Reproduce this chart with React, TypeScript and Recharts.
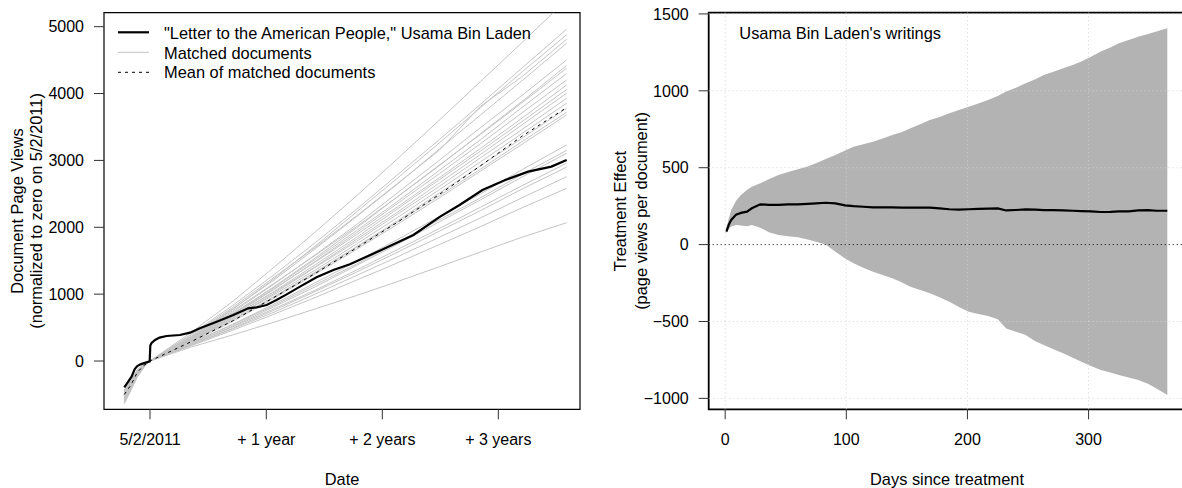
import React from "react";
import {
  LineChart,
  ComposedChart,
  Line,
  Area,
  XAxis,
  YAxis,
  ReferenceArea,
  ReferenceLine,
} from "recharts";

const FONT = '"Liberation Sans", Arial, Helvetica, sans-serif';

// ---- left panel: cumulative page views, days counted from 5/2/2011 ----
const DATE_TICKS = [0, 366, 731, 1096];
const DATE_TICK_LABELS = ["5/2/2011", "+ 1 year", "+ 2 years", "+ 3 years"];
const VIEW_TICKS = [0, 1000, 2000, 3000, 4000, 5000];

const LETTER_DAYS = [
  -81, -70, -58, -48, -40, -30, -21, -1, 1, 5, 16, 30, 52, 94, 126, 157, 210,
  262, 309, 336, 367, 398, 430, 472, 524, 577, 629, 733, 829, 913, 974, 1046,
  1118, 1190, 1263, 1311,
];
const LETTER_VIEWS = [
  -394, -320, -235, -120, -75, -50, -35, -5, 230, 270, 314, 350, 374, 389, 424,
  489, 588, 688, 788, 803, 838, 912, 997, 1112, 1252, 1361, 1447, 1671, 1885,
  2159, 2334, 2558, 2708, 2832, 2907, 3007,
];

const MEAN_DAYS = [-81, -60, -40, -20, 0, 130, 260, 390, 520, 650, 780, 910, 1040, 1170, 1311];
const MEAN_VIEWS = [-500, -360, -170, -70, 0, 290, 600, 950, 1310, 1690, 2080, 2490, 2920, 3360, 3790];

const MATCHED_DAYS = [-81, -60, -40, -20, 0, 130, 260, 390, 520, 650, 780, 910, 1040, 1170, 1311];
const MATCHED_VIEWS = [
  [-520, -360, -170, -70, 0, 430, 890, 1400, 1930, 2470, 3030, 3600, 4180, 4760, 5400],
  [-600, -410, -210, -85, 0, 400, 830, 1290, 1770, 2270, 2790, 3310, 3840, 4380, 4962],
  [-480, -330, -150, -60, 0, 360, 770, 1230, 1720, 2230, 2740, 3260, 3790, 4320, 4880],
  [-550, -380, -190, -75, 0, 390, 800, 1250, 1700, 2170, 2660, 3150, 3810, 4250, 4812],
  [-640, -440, -240, -100, 0, 370, 780, 1210, 1680, 2160, 2650, 3170, 3680, 4190, 4753],
  [-450, -310, -140, -55, 0, 350, 730, 1150, 1590, 2040, 2520, 3000, 3490, 3970, 4503],
  [-580, -400, -200, -80, 0, 360, 750, 1160, 1580, 2010, 2460, 2920, 3400, 3880, 4420],
  [-500, -350, -170, -65, 0, 330, 700, 1110, 1540, 1990, 2460, 2930, 3390, 3860, 4379],
  [-620, -430, -230, -95, 0, 340, 710, 1100, 1520, 1950, 2390, 2850, 3310, 3790, 4300],
  [-470, -320, -150, -60, 0, 320, 680, 1070, 1490, 1920, 2360, 2800, 3250, 3710, 4204],
  [-560, -390, -190, -75, 0, 340, 700, 1080, 1480, 1890, 2310, 2740, 3180, 3630, 4129],
  [-430, -290, -130, -50, 0, 310, 660, 1040, 1440, 1850, 2280, 2710, 3140, 3580, 4060],
  [-590, -410, -210, -85, 0, 320, 670, 1030, 1410, 1820, 2230, 2660, 3090, 3530, 4005],
  [-510, -350, -170, -65, 0, 300, 640, 1010, 1400, 1790, 2200, 2610, 3040, 3460, 3930],
  [-540, -370, -180, -70, 0, 310, 640, 990, 1360, 1750, 2150, 2560, 2980, 3400, 3855],
  [-460, -320, -150, -60, 0, 290, 610, 960, 1330, 1710, 2100, 2510, 2920, 3330, 3780],
  [-610, -420, -220, -90, 0, 300, 620, 960, 1320, 1700, 2080, 2470, 2870, 3280, 3720],
  [-490, -340, -160, -65, 0, 280, 590, 940, 1300, 1670, 2050, 2440, 2840, 3240, 3680],
  [-570, -390, -200, -80, 0, 270, 550, 850, 1170, 1490, 1820, 2160, 2500, 2860, 3231],
  [-440, -300, -140, -55, 0, 270, 540, 830, 1140, 1450, 1780, 2110, 2440, 2790, 3150],
  [-530, -360, -180, -70, 0, 250, 520, 810, 1110, 1430, 1750, 2080, 2410, 2750, 3107],
  [-600, -420, -210, -85, 0, 260, 510, 780, 1060, 1360, 1670, 1980, 2300, 2620, 2958],
  [-480, -330, -155, -60, 0, 240, 490, 760, 1040, 1330, 1630, 1940, 2250, 2570, 2900],
  [-520, -360, -170, -70, 0, 240, 480, 730, 1000, 1280, 1560, 1850, 2140, 2440, 2757],
  [-560, -380, -190, -75, 0, 230, 460, 700, 950, 1210, 1470, 1740, 2010, 2290, 2583],
  [-450, -310, -140, -55, 0, 210, 390, 580, 780, 980, 1190, 1410, 1630, 1850, 2069],
];

// ---- right panel: treatment effect with its interval ----
const EFFECT_X_TICKS = [0, 100, 200, 300];
const EFFECT_Y_TICKS = [-1000, -500, 0, 500, 1000, 1500];

const EFFECT_DAYS = [
  1, 3, 5, 9, 13, 18, 22, 29, 36, 44, 52, 60, 68, 75, 83, 91, 99, 106, 114, 122,
  130, 138, 146, 153, 161, 169, 177, 185, 193, 201, 209, 217, 225, 232, 240,
  248, 256, 263, 271, 279, 287, 294, 302, 310, 318, 325, 333, 341, 349, 356, 365,
];
const EFFECT_VALUES = [
  84, 130, 160, 195, 206, 214, 236, 262, 258, 258, 262, 262, 265, 268, 272,
  268, 255, 250, 246, 242, 243, 242, 240, 241, 240, 240, 236, 230, 228, 230,
  232, 234, 236, 222, 225, 229, 228, 224, 224, 222, 220, 218, 216, 212, 213,
  216, 216, 222, 224, 220, 220,
];
const BAND_LOWER = [
  75, 100, 118, 128, 125, 120, 128, 110, 80, 62, 55, 47, 33, 19, 0, -46, -90,
  -122, -150, -176, -198, -219, -246, -274, -295, -317, -343, -371, -405, -436,
  -452, -464, -486, -545, -566, -588, -628, -653, -680, -707, -735, -762, -790,
  -816, -832, -848, -864, -881, -905, -935, -978,
];
const BAND_UPPER = [
  110, 170, 225, 285, 323, 355, 377, 399, 425, 453, 472, 490, 508, 529, 556,
  583, 612, 637, 652, 669, 690, 713, 733, 756, 782, 810, 830, 854, 876, 897,
  918, 940, 966, 995, 1020, 1049, 1076, 1103, 1124, 1147, 1168, 1190, 1222,
  1255, 1282, 1309, 1330, 1352, 1370, 1385, 1407,
];

const DAY_DOMAIN: [number, number] = [-144.7, 1353];
const VIEW_DOMAIN: [number, number] = [-722, 5209];
const EFFECT_DAY_DOMAIN: [number, number] = [-13.6, 379.6];
const EFFECT_DOMAIN: [number, number] = [-1071, 1508];

const toRows = (days: number[], values: number[]) =>
  days.map((day, i) => ({ day, value: values[i] }));

const effectRows = EFFECT_DAYS.map((day, i) => ({
  day,
  effect: EFFECT_VALUES[i],
  band: [BAND_LOWER[i], BAND_UPPER[i]],
}));

const minus = (v: number) => (v < 0 ? `\u2212${Math.abs(v)}` : String(v));

const tickStyle = { fontSize: 16, fill: "#000", fontFamily: FONT };
const tickLine = { stroke: "#333", strokeWidth: 1 };

function ViewsPanel() {
  return (
    <LineChart
      width={600}
      height={488}
      margin={{ top: 12.7, right: 20, bottom: 38.7, left: 44 }}
    >
      <XAxis
        type="number"
        dataKey="day"
        domain={DAY_DOMAIN}
        ticks={DATE_TICKS}
        tickFormatter={(v: number) => DATE_TICK_LABELS[DATE_TICKS.indexOf(v)] ?? ""}
        allowDataOverflow
        interval={0}
        axisLine={false}
        tickLine={tickLine}
        tickSize={10}
        tickMargin={14}
        height={40}
        tick={tickStyle}
      />
      <YAxis
        type="number"
        domain={VIEW_DOMAIN}
        ticks={VIEW_TICKS}
        allowDataOverflow
        interval={0}
        axisLine={false}
        tickLine={tickLine}
        tickSize={10}
        tickMargin={10}
        width={60}
        tick={tickStyle}
      />
      {MATCHED_VIEWS.map((views, k) => (
        <Line
          key={k}
          data={toRows(MATCHED_DAYS, views)}
          dataKey="value"
          type="linear"
          stroke="#c4c4c4"
          strokeWidth={1}
          dot={false}
          activeDot={false}
          isAnimationActive={false}
        />
      ))}
      <Line
        data={toRows(MEAN_DAYS, MEAN_VIEWS)}
        dataKey="value"
        type="linear"
        stroke="#000"
        strokeWidth={1}
        strokeDasharray="3 4"
        dot={false}
        activeDot={false}
        isAnimationActive={false}
      />
      <Line
        data={toRows(LETTER_DAYS, LETTER_VIEWS)}
        dataKey="value"
        type="linear"
        stroke="#000"
        strokeWidth={2.2}
        dot={false}
        activeDot={false}
        isAnimationActive={false}
      />
      <ReferenceArea
        x1={DAY_DOMAIN[0]}
        x2={DAY_DOMAIN[1]}
        y1={VIEW_DOMAIN[0]}
        y2={VIEW_DOMAIN[1]}
        fill="none"
        stroke="#000"
        strokeWidth={1.2}
        ifOverflow="visible"
      />
    </LineChart>
  );
}

function EffectPanel() {
  return (
    <ComposedChart
      width={600}
      height={488}
      data={effectRows}
      margin={{ top: 12.7, right: 15, bottom: 38.7, left: 48.7 }}
    >
      <XAxis
        type="number"
        dataKey="day"
        domain={EFFECT_DAY_DOMAIN}
        ticks={EFFECT_X_TICKS}
        allowDataOverflow
        interval={0}
        axisLine={false}
        tickLine={tickLine}
        tickSize={10}
        tickMargin={14}
        height={40}
        tick={tickStyle}
      />
      <YAxis
        type="number"
        domain={EFFECT_DOMAIN}
        ticks={EFFECT_Y_TICKS}
        tickFormatter={minus}
        allowDataOverflow
        interval={0}
        axisLine={false}
        tickLine={tickLine}
        tickSize={10}
        tickMargin={10}
        width={60}
        tick={tickStyle}
      />
      {EFFECT_X_TICKS.map((x) => (
        <ReferenceLine key={`gx${x}`} x={x} stroke="#d3d3d3" strokeDasharray="1 3" />
      ))}
      {EFFECT_Y_TICKS.filter((y) => y !== 0).map((y) => (
        <ReferenceLine key={`gy${y}`} y={y} stroke="#d3d3d3" strokeDasharray="1 3" />
      ))}
      <ReferenceLine y={0} stroke="#000" strokeDasharray="1 3" />
      <Area
        dataKey="band"
        type="linear"
        stroke="none"
        fill="#b3b3b3"
        fillOpacity={1}
        dot={false}
        activeDot={false}
        isAnimationActive={false}
      />
      <Line
        dataKey="effect"
        type="linear"
        stroke="#000"
        strokeWidth={2.2}
        dot={false}
        activeDot={false}
        isAnimationActive={false}
      />
      <ReferenceArea
        x1={EFFECT_DAY_DOMAIN[0]}
        x2={EFFECT_DAY_DOMAIN[1]}
        y1={EFFECT_DOMAIN[0]}
        y2={EFFECT_DOMAIN[1]}
        fill="none"
        stroke="#000"
        strokeWidth={1.8}
        ifOverflow="visible"
      />
    </ComposedChart>
  );
}

// titles, legend and the panel caption
function Annotations() {
  const text = { fontFamily: FONT, fontSize: 16.4, fill: "#000" };
  return (
    <svg
      width={1182}
      height={488}
      style={{ position: "absolute", left: 0, top: 0, pointerEvents: "none" }}
    >
      <line x1={118} x2={149} y1={32.3} y2={32.3} stroke="#000" strokeWidth={2.2} />
      <line x1={118} x2={149} y1={52.3} y2={52.3} stroke="#c4c4c4" strokeWidth={1} />
      <line x1={118} x2={149} y1={72.3} y2={72.3} stroke="#000" strokeWidth={1} strokeDasharray="3 4" />
      <text x={164} y={39} {...text}>"Letter to the American People," Usama Bin Laden</text>
      <text x={164} y={58.7} {...text}>Matched documents</text>
      <text x={164} y={78.3} {...text}>Mean of matched documents</text>

      <text x={739.3} y={38.5} {...text}>Usama Bin Laden's writings</text>

      <text x={342} y={485} textAnchor="middle" {...text}>Date</text>
      <text x={947} y={485} textAnchor="middle" {...text}>Days since treatment</text>

      <g transform="translate(22.5 211) rotate(-90)">
        <text x={0} y={0} textAnchor="middle" {...text}>Document Page Views</text>
      </g>
      <g transform="translate(42 211) rotate(-90)">
        <text x={0} y={0} textAnchor="middle" {...text}>(normalized to zero on 5/2/2011)</text>
      </g>
      <g transform="translate(626 211) rotate(-90)">
        <text x={0} y={0} textAnchor="middle" {...text}>Treatment Effect</text>
      </g>
      <g transform="translate(647 211) rotate(-90)">
        <text x={0} y={0} textAnchor="middle" {...text}>(page views per document)</text>
      </g>
    </svg>
  );
}

export default function App() {
  return (
    <div
      style={{
        position: "absolute",
        left: 0,
        top: 0,
        width: 1182,
        height: 488,
        overflow: "hidden",
        background: "#fff",
        fontFamily: FONT,
      }}
    >
      <div style={{ position: "absolute", left: 0, top: 0 }}>
        <ViewsPanel />
      </div>
      <div style={{ position: "absolute", left: 600, top: 0 }}>
        <EffectPanel />
      </div>
      <Annotations />
    </div>
  );
}
